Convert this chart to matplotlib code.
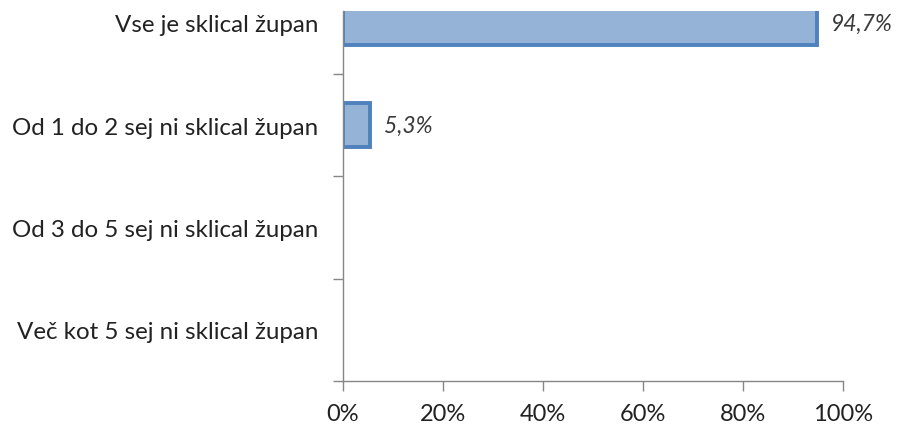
import matplotlib
matplotlib.use("Agg")
from matplotlib import pyplot as plt
from matplotlib.ticker import FuncFormatter

categories = [
    "Vse je sklical župan",
    "Od 1 do 2 sej ni sklical župan",
    "Od 3 do 5 sej ni sklical župan",
    "Več kot 5 sej ni sklical župan",
]
values = [94.7, 5.3, 0.0, 0.0]
xticks = [0, 20, 40, 60, 80, 100]

plt.rcParams["font.family"] = ["Lato", "DejaVu Sans"]

fig = plt.figure(figsize=(8.97, 4.27), dpi=100)
ax = fig.add_axes([343 / 897, 45 / 427, 500 / 897, 370 / 427])

pos = list(range(len(categories)))
lw = [2.8 if v > 0 else 0 for v in values]
ax.barh(pos, values, height=0.43, color="#95B3D7", edgecolor="#4F81BD",
        linewidth=lw)

for p, v in zip(pos, values):
    if v > 0:
        ax.text(v + 2.8, p, f"{v:.1f}%".replace(".", ","), va="center",
                ha="left", fontsize=16.5, style="italic", color="#3a3a3a")

ax.set_xlim(0, 100)
ax.set_ylim(3.5, -0.117)
ax.set_xticks(xticks)
ax.xaxis.set_major_formatter(FuncFormatter(lambda x, _: f"{x:.0f}%"))

# category labels sit between the boundary ticks
ax.set_yticks([p + 0.5 for p in pos])
ax.set_yticklabels([])
ax.set_yticks(pos, minor=True)
ax.set_yticklabels(categories, minor=True)
ax.tick_params(axis="y", which="minor", length=0, pad=18, labelsize=17.4)
ax.tick_params(axis="y", which="major", length=7, width=1, color="#868686",
               direction="out")
ax.tick_params(axis="x", length=7, width=1, color="#868686", direction="out",
               pad=9, labelsize=17)
ax.tick_params(which="both", labelcolor="#222222")

for s in ["top", "right"]:
    ax.spines[s].set_visible(False)
for s in ["left", "bottom"]:
    ax.spines[s].set_color("#868686")
    ax.spines[s].set_linewidth(1)

fig.savefig("out.png", dpi=100)
